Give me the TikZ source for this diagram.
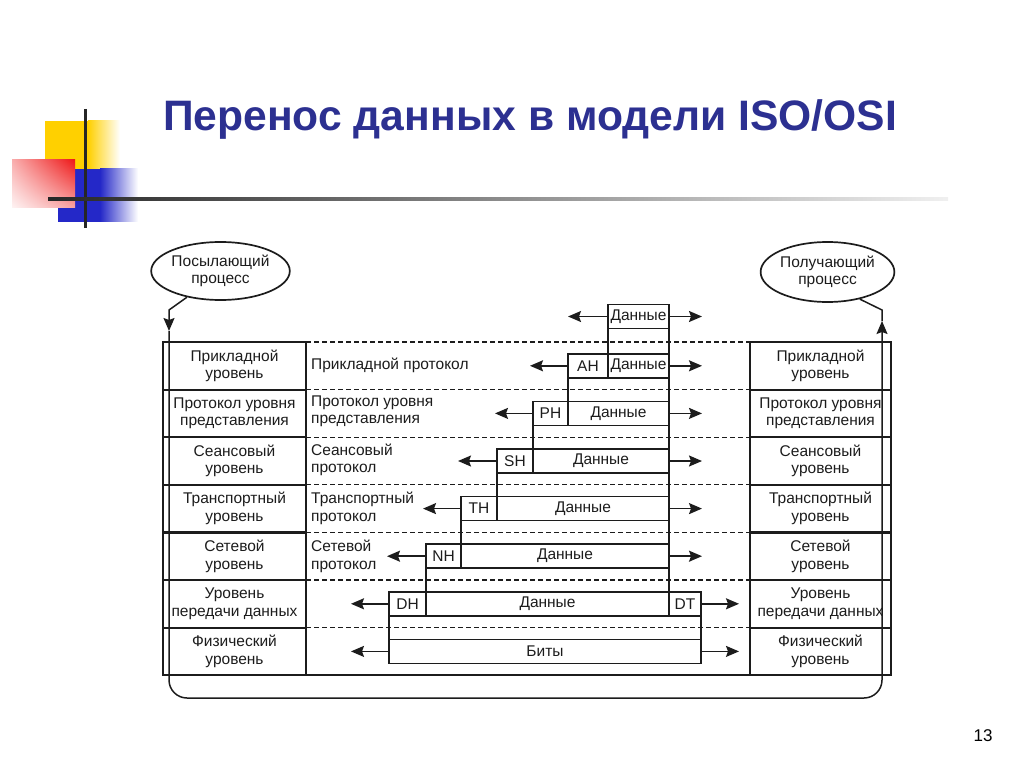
\documentclass[tikz,border=0pt]{standalone}
\usepackage{fontspec}
\setmainfont{Liberation Sans}
\usetikzlibrary{positioning, arrows.meta, shapes.geometric, shadings}
\definecolor{titleblue}{RGB}{44,48,145}
\definecolor{ink}{RGB}{28,28,28}
\definecolor{decoyellow}{RGB}{255,208,0}
\definecolor{decored}{RGB}{238,24,24}
\definecolor{decoblue}{RGB}{36,40,200}

\begin{document}
\begin{tikzpicture}[x=1pt, y=-1pt, ink, font=\fontsize{15.5}{17.5}\selectfont,
    layer/.style={draw, line width=2.2pt, minimum width=143pt, minimum height=47.6pt, inner sep=0pt, outer sep=0pt, align=center},
    pdu/.style={draw, line width=1.7pt, minimum height=24pt, inner sep=0pt, outer sep=0pt},
    proto/.style={align=left, inner sep=0pt},
    proc/.style={ellipse, draw, line width=1.7pt, minimum width=131pt, minimum height=58pt, inner sep=0pt, align=center},
    msg/.style={-{Stealth[length=13pt, width=11pt, inset=2pt]}, line width=1.5pt},
    lvl/.style={dash pattern=on 5pt off 3pt, line width=1.3pt}]
  \useasboundingbox (0,0) rectangle (1024,767);

  % slide decoration
  \fill[decoyellow] (45,121) rectangle (88,170);
  \shade[left color=decoyellow, right color=white] (88,121) rectangle (120,170);
  \fill[decoblue] (58,169) rectangle (100,222);
  \shade[left color=decoblue, right color=white] (100,169) rectangle (138,222);
  \shade[upper left=decored!35, upper right=decored, lower left=decored!5, lower right=decored!40] (12,160) rectangle (75,208);
  \draw[line width=3pt, black!85] (85,109) -- (85,228);
  \shade[left color=black!85, middle color=black!45, right color=black!6] (48,197.5) rectangle (948,201);
  \node[anchor=base west, inner sep=0pt, text=titleblue, font=\fontsize{42.6}{48}\selectfont\bfseries] (title) at (163,131) {Перенос данных в модели ISO/OSI};
  \node[black, font=\fontsize{17}{20}\selectfont] (page) at (983,736) {13};

  % processes
  \node[proc] (snd) at (220.5,271) {Посылающий\\процесс};
  \node[proc, minimum width=129pt, minimum height=60pt] (rcv) at (827.5,272) {Получающий\\процесс};

  % sender stack
  \node[layer] (L1) at (234.5,365.8) {Прикладной\\уровень};
  \node[layer, below=0pt of L1] (L2) {Протокол уровня\\представления};
  \node[layer, below=0pt of L2] (L3) {Сеансовый\\уровень};
  \node[layer, below=0pt of L3] (L4) {Транспортный\\уровень};
  \node[layer, below=0pt of L4] (L5) {Сетевой\\уровень};
  \node[layer, below=0pt of L5] (L6) {Уровень\\передачи данных};
  \node[layer, below=0pt of L6] (L7) {Физический\\уровень};

  % receiver stack
  \node[layer, minimum width=141pt] (R1) at (820.5,365.8) {Прикладной\\уровень};
  \node[layer, minimum width=141pt, below=0pt of R1] (R2) {Протокол уровня\\представления};
  \node[layer, minimum width=141pt, below=0pt of R2] (R3) {Сеансовый\\уровень};
  \node[layer, minimum width=141pt, below=0pt of R3] (R4) {Транспортный\\уровень};
  \node[layer, minimum width=141pt, below=0pt of R4] (R5) {Сетевой\\уровень};
  \node[layer, minimum width=141pt, below=0pt of R5] (R6) {Уровень\\передачи данных};
  \node[layer, minimum width=141pt, below=0pt of R6] (R7) {Физический\\уровень};

  % peer protocols
  \draw[lvl] (L1.north east) -- (R1.north west) (L1.south east) -- (R1.south west)
    (L2.south east) -- (R2.south west) (L3.south east) -- (R3.south west)
    (L4.south east) -- (R4.south west) (L5.south east) -- (R5.south west)
    (L6.south east) -- (R6.south west);
  \draw[line width=1.7pt] (L7.south east) -- (R7.south west);
  \node[proto, right=5pt of L1.east] (p1) {Прикладной протокол};
  \node[proto, right=5pt of L2.east, yshift=2pt] (p2) {Протокол уровня\\представления};
  \node[proto, right=5pt of L3.east, yshift=1pt] (p3) {Сеансовый\\протокол};
  \node[proto, right=5pt of L4.east] (p4) {Транспортный\\протокол};
  \node[proto, right=5pt of L5.east] (p5) {Сетевой\\протокол};

  % encapsulation
  \node[pdu, minimum width=61pt] (d0) at (638.5,316.5) {Данные};
  \node[pdu, minimum width=40pt] (ah) at (588,365.8) {AH};
  \node[pdu, minimum width=61pt, right=0pt of ah] (d1) {Данные};
  \node[pdu, minimum width=35pt] (ph) at (550.5,413.4) {PH};
  \node[pdu, minimum width=101pt, right=0pt of ph] (d2) {Данные};
  \node[pdu, minimum width=36pt] (sh) at (515,461) {SH};
  \node[pdu, minimum width=136pt, right=0pt of sh] (d3) {Данные};
  \node[pdu, minimum width=36pt] (th) at (479,508.6) {TH};
  \node[pdu, minimum width=172pt, right=0pt of th] (d4) {Данные};
  \node[pdu, minimum width=35pt] (nh) at (443.5,556.2) {NH};
  \node[pdu, minimum width=208pt, right=0pt of nh] (d5) {Данные};
  \node[pdu, minimum width=37pt] (dh) at (407.5,603.8) {DH};
  \node[pdu, minimum width=243pt, right=0pt of dh] (d6) {Данные};
  \node[pdu, minimum width=32pt, right=0pt of d6] (dt) {DT};
  \node[pdu, minimum width=312pt] (bits) at (545,651.4) {Биты};
  \draw[line width=1.7pt] (d0.south west) rectangle (d1.north east) (ah.south west) rectangle (d2.north east)
    (ph.south west) rectangle (d3.north east) (sh.south west) rectangle (d4.north east)
    (th.south west) rectangle (d5.north east) (nh.south west) rectangle (d6.north east)
    (dh.south west) rectangle (bits.north east);

  \coordinate[left=40pt of d0] (d0-l); \coordinate[right=33pt of d0] (d0-r);
  \coordinate[left=38pt of ah] (ah-l); \coordinate[right=33pt of d1] (d1-r);
  \coordinate[left=38pt of ph] (ph-l); \coordinate[right=33pt of d2] (d2-r);
  \coordinate[left=39pt of sh] (sh-l); \coordinate[right=33pt of d3] (d3-r);
  \coordinate[left=38pt of th] (th-l); \coordinate[right=33pt of d4] (d4-r);
  \coordinate[left=39pt of nh] (nh-l); \coordinate[right=33pt of d5] (d5-r);
  \coordinate[left=38pt of dh] (dh-l); \coordinate[right=38pt of dt] (dt-r);
  \coordinate[left=38pt of bits] (bits-l); \coordinate[right=38pt of bits] (bits-r);
  \path[msg] (d0) edge (d0-l) (d0) edge (d0-r) (ah) edge (ah-l) (d1) edge (d1-r)
    (ph) edge (ph-l) (d2) edge (d2-r) (sh) edge (sh-l) (d3) edge (d3-r)
    (th) edge (th-l) (d4) edge (d4-r) (nh) edge (nh-l) (d5) edge (d5-r)
    (dh) edge (dh-l) (dt) edge (dt-r) (bits) edge (bits-l) (bits) edge (bits-r);

  % path from sender to receiver
  \coordinate (s-bend) at (169,310); \coordinate (s-tip) at (169,331);
  \coordinate (loop-l) at (169,698); \coordinate (loop-r) at (882,698);
  \coordinate (r-tip) at (882,321); \coordinate (r-bend) at (882,310);
  \draw[msg] (snd.218) -- (s-bend) -- (s-tip);
  \draw[msg, rounded corners=18pt] (s-tip) -- (loop-l) -- (loop-r) -- (r-tip);
  \draw[line width=1.5pt] (r-tip) -- (r-bend) -- (rcv.320);
\end{tikzpicture}
\end{document}
